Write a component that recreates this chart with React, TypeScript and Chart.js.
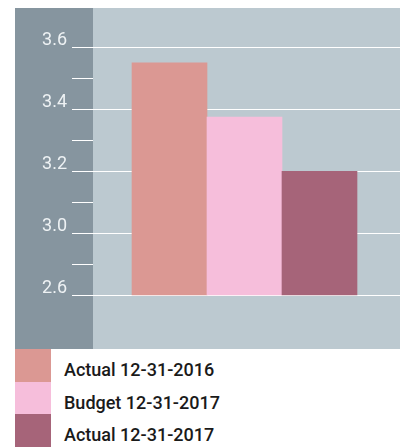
import React, { useEffect, useRef } from "react";
import { Chart, registerables } from "chart.js";

Chart.register(...registerables);

const SERIES_LABELS = ["Actual 12-31-2016", "Budget 12-31-2017", "Actual 12-31-2017"];
const SERIES_VALUES = [3.55, 3.375, 3.2];
const SERIES_COLORS = ["#db9893", "#f6bedb", "#a66479"];
// broken axis: tick positions on the scale and their displayed labels
const TICK_POSITIONS = [2.8, 2.9, 3.0, 3.1, 3.2, 3.3, 3.4, 3.5, 3.6];
const TICK_LABELS = ["2.6", "", "3.0", "", "3.2", "", "3.4", "", "3.6"];
const BAR_BASE = 2.8;

const DARK = "#86959f";
const LIGHT = "#bcc9d0";

const bgPlugin = {
  id: "bgPanels",
  beforeDraw(chart: any) {
    const { ctx, chartArea } = chart;
    ctx.save();
    ctx.fillStyle = DARK;
    ctx.fillRect(7, chartArea.top, chartArea.left - 7, chartArea.bottom - chartArea.top);
    ctx.fillStyle = LIGHT;
    ctx.fillRect(chartArea.left, chartArea.top, chart.width - chartArea.left, chartArea.bottom - chartArea.top);
    ctx.restore();
  },
};

export default function App() {
  const ref = useRef<HTMLCanvasElement>(null);

  useEffect(() => {
    if (!ref.current) return;
    const chart = new Chart(ref.current, {
      type: "bar",
      data: {
        datasets: [
          {
            label: "values",
            data: SERIES_VALUES.map((v, i) => ({ x: i + 1, y: v })),
            backgroundColor: SERIES_COLORS,
            borderWidth: 0,
            barPercentage: 1,
            categoryPercentage: 1,
            base: BAR_BASE,
          } as any,
        ],
      },
      options: {
        animation: false,
        responsive: true,
        maintainAspectRatio: false,
        layout: { padding: 0 },
        plugins: { legend: { display: false }, tooltip: { enabled: false } },
        scales: {
          x: {
            type: "linear",
            display: false,
            offset: false,
            min: -0.02,
            max: 4.18,
            grid: { offset: false },
            afterBuildTicks: (scale: any) => {
              scale.ticks = SERIES_VALUES.map((_, i) => ({ value: i + 1 }));
            },
          },
          y: {
            type: "linear",
            min: 2.627,
            max: 3.727,
            afterBuildTicks: (scale: any) => {
              scale.ticks = TICK_POSITIONS.map((v) => ({ value: v }));
            },
            afterFit: (scale: any) => {
              scale.width = 85;
              scale.paddingTop = 0;
              scale.paddingBottom = 0;
            },
            border: { display: false },
            grid: {
              drawTicks: true,
              tickLength: 21,
              lineWidth: 1,
              color: (ctx: any) => {
                const idx = TICK_POSITIONS.indexOf(ctx.tick?.value);
                return idx >= 0 && TICK_LABELS[idx] !== "" ? "#ffffff" : "rgba(0,0,0,0)";
              },
              tickColor: "#ffffff",
            },
            ticks: {
              padding: 5,
              labelOffset: -7,
              color: "#eef2f4",
              font: { family: "Roboto", size: 18, weight: "400" as any },
              callback: (value: any) => {
                const idx = TICK_POSITIONS.findIndex((p) => Math.abs(p - Number(value)) < 1e-6);
                return idx >= 0 ? TICK_LABELS[idx] : "";
              },
            },
          },
        },
      },
      plugins: [bgPlugin],
    });
    return () => chart.destroy();
  }, []);

  return (
    <div style={{ width: 400 }}>
      <div style={{ position: "relative", width: 400, height: 341 }}>
        <canvas ref={ref} />
      </div>
      <div style={{ marginLeft: 7 }}>
        {SERIES_LABELS.map((label, i) => (
          <div key={label} style={{ display: "flex", alignItems: "center", height: 32.7 }}>
            <div style={{ width: 36, height: "100%", background: SERIES_COLORS[i] }} />
            <span
              style={{
                marginLeft: 13,
                fontFamily: "Roboto",
                fontWeight: 500,
                fontSize: 18,
                color: "#1a1a1a",
                position: "relative",
                top: 4,
                whiteSpace: "nowrap",
              }}
            >
              {label}
            </span>
          </div>
        ))}
      </div>
    </div>
  );
}
